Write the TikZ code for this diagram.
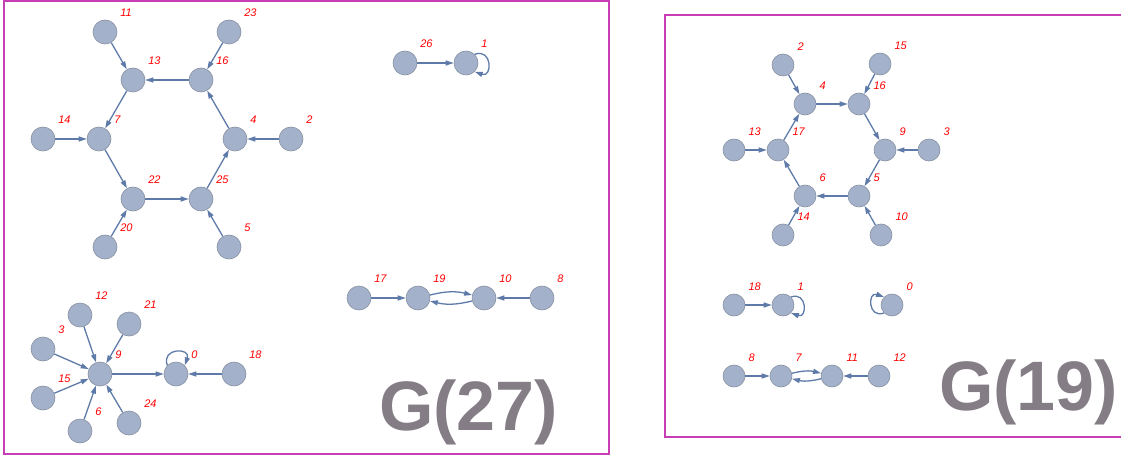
\documentclass[tikz,border=0pt]{standalone}
\usepackage{fontspec}
\setmainfont{Liberation Sans}
\usetikzlibrary{arrows.meta}

\definecolor{vertexfill}{HTML}{A3B1CA}
\definecolor{vertexdraw}{HTML}{8590A2}
\definecolor{edgeblue}{HTML}{5D7AA8}
\definecolor{framepink}{HTML}{C83FB5}
\definecolor{titlegray}{HTML}{857D86}

\begin{document}
\begin{tikzpicture}[x=1pt, y=1pt, >={Triangle[length=8pt,width=5pt]}]

    \tikzset{%
    every vertex/.style={
        circle,
        draw=vertexdraw,
        fill=vertexfill,
        line width=0.6pt,
        minimum size=24pt,
        inner sep=0pt
        },
    small vertex/.style={
        minimum size=22pt
        },
    vertex label/.style={
        text=red,
        font=\fontsize{11}{13}\selectfont\itshape,
        inner sep=0pt,
        label distance=9pt
        },
    edge line/.style={->, draw=edgeblue, line width=1.3pt},
    self loop/.style={edge line, looseness=2.8},
    box frame/.style={draw=framepink, line width=1.5pt},
    graph title/.style={
        text=titlegray,
        font=\fontsize{70}{84}\selectfont\bfseries,
        anchor=base west,
        inner sep=0pt
        },
    }

    \useasboundingbox (0,0) rectangle (1121,-457);

    % Frames round the two graphs
    \draw [box frame] (4,-1) rectangle (609,-454);
    \draw [box frame] (1122,-15) -- (665,-15) -- (665,-437) -- (1122,-437);

    % Vertices of G(27)
    \foreach \m/\x/\y in {11/105/32, 23/229/32, 13/133/80, 16/201/80, 14/43/139, 7/99/139,
        4/235/139, 2/291/139, 22/133/199, 25/201/199, 20/105/247, 5/229/247,
        12/80/315, 21/129/324, 3/43/349, 9/100/374, 0/176/374, 18/234/374,
        15/43/398, 6/80/431, 24/129/423, 26/405/63, 1/466/63,
        17/359/298, 19/418/298, 10/484/298, 8/542/298}
    \node [every vertex, label={[vertex label]45:\m}] (a-\m) at (\x,-\y) {};

    % Vertices of G(19)
    \foreach \m/\x/\y in {2/783/65, 15/880/64, 4/805/104, 16/859/104, 13/734/150, 17/778/150,
        9/885/150, 3/929/150, 6/805/196, 5/859/196, 14/783/235, 10/881/235,
        18/734/305, 1/783/305, 0/892/305, 8/734/376, 7/781/376, 11/832/376, 12/879/376}
    \node [every vertex, small vertex, label={[vertex label]45:\m}] (b-\m) at (\x,-\y) {};

    % Edges of G(27)
    \foreach \a/\b in {11/13, 23/16, 16/13, 13/7, 14/7, 7/22, 22/25, 20/22, 5/25, 25/4, 2/4, 4/16,
        12/9, 21/9, 3/9, 15/9, 6/9, 24/9, 9/0, 18/0, 26/1, 17/19, 8/10}
    \draw [edge line] (a-\a) -- (a-\b);
    \draw [edge line] (a-19) to [bend left=14] (a-10);
    \draw [edge line] (a-10) to [bend left=14] (a-19);
    \draw [self loop] (a-0.135) to [out=110, in=70] (a-0.45);
    \draw [self loop] (a-1.45) to [out=20, in=-20] (a-1.-45);

    % Edges of G(19)
    \foreach \a/\b in {2/4, 15/16, 4/16, 16/9, 3/9, 9/5, 10/5, 5/6, 14/6, 6/17, 17/4, 13/17,
        18/1, 8/7, 12/11}
    \draw [edge line] (b-\a) -- (b-\b);
    \draw [edge line] (b-7) to [bend left=14] (b-11);
    \draw [edge line] (b-11) to [bend left=14] (b-7);
    \draw [self loop] (b-1.45) to [out=20, in=-20] (b-1.-45);
    \draw [self loop] (b-0.-135) to [out=200, in=160] (b-0.135);

    % Titles
    \node [graph title] (title-27) at (379,-430) {G(27)};
    \node [graph title] (title-19) at (939,-410) {G(19)};

\end{tikzpicture}
\end{document}
